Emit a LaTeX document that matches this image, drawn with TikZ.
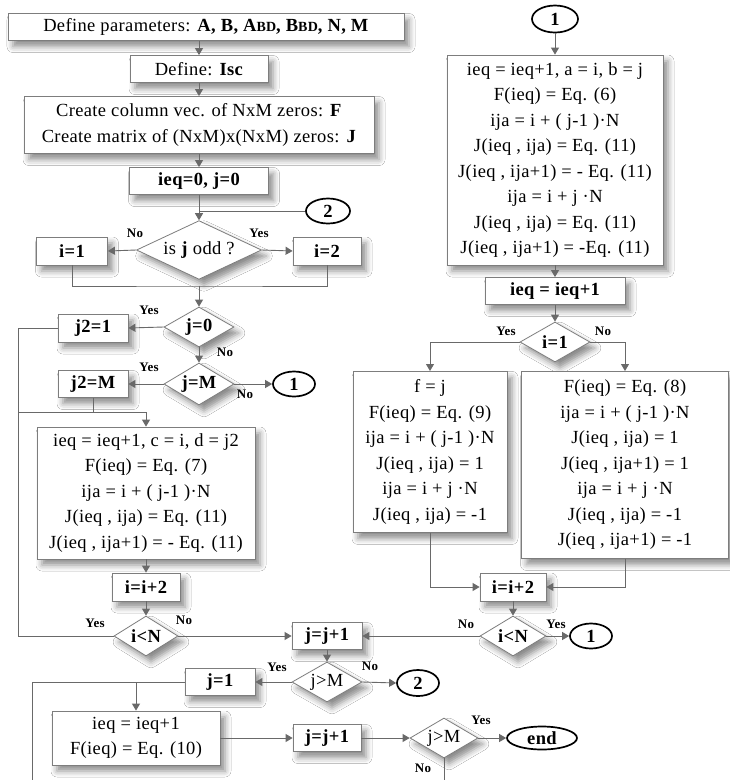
\documentclass[tikz,border=0pt]{standalone}
\usepackage{fontspec}
\setmainfont{Liberation Serif}[LetterSpace=2]
\usetikzlibrary{shapes.geometric,arrows.meta,shadows.blur}
\definecolor{linegray}{RGB}{105,105,105}
\definecolor{boxgray}{RGB}{125,125,125}
\newcommand{\smc}[1]{{\fontsize{14}{14}\selectfont #1}}
\begin{document}
\begin{tikzpicture}[x=1pt,y=-1pt,
  every node/.style={font=\fontsize{18.5}{25.5}\selectfont},
  shad/.style={blur shadow={shadow xshift=5pt,shadow yshift=-6pt,shadow blur radius=6pt,shadow opacity=45}},
  box/.style={draw=boxgray,fill=white,line width=0.8pt,align=center,inner sep=2pt,shad},
  bb/.style={font=\fontsize{18.5}{20}\selectfont\bfseries},
  dia/.style={diamond,aspect=1.7,draw=boxgray,fill=white,line width=0.8pt,inner sep=0pt,shad},
  conn/.style={ellipse,draw=black,line width=1.7pt,fill=white,inner sep=0pt,font=\fontsize{18.5}{18.5}\selectfont\bfseries},
  lbl/.style={font=\fontsize{13}{13}\selectfont\bfseries,inner sep=0pt},
  arr/.style={draw=linegray,line width=0.9pt,-{Triangle[width=8pt,length=7pt]}},
  ln/.style={draw=linegray,line width=0.9pt}
]
\useasboundingbox (0,0) rectangle (730,780);
\fill[white] (0,0) rectangle (730,780);

% ---------- left column ----------
\node[box,minimum width=396pt,minimum height=27pt] (def) at (206,27)
  {Define parameters: \textbf{A, B, A\smc{BD}, B\smc{BD}, N, M}};
\node[box,minimum width=138pt,minimum height=27pt] (isc) at (199,69) {Define: \textbf{Isc}};
\node[box,minimum width=350pt,minimum height=57pt] (create) at (199,125)
  {Create column vec. of NxM zeros: \textbf{F}\\Create matrix of (NxM)x(NxM) zeros: \textbf{J}};
\node[box,bb,minimum width=139pt,minimum height=27pt] (ieq0) at (199,181) {ieq=0, j=0};
\node[conn,minimum width=44pt,minimum height=25pt] (c2a) at (328,211) {2};
\node[dia,minimum width=125pt,minimum height=55pt] (odd) at (199,250) {is \textbf{j} odd ?};
\node[box,bb,minimum width=71pt,minimum height=28pt] (i1) at (72,251) {i=1};
\node[box,bb,minimum width=68pt,minimum height=28pt] (i2) at (327,251) {i=2};
\coordinate (jn1) at (199,286);
\node[dia,bb,minimum width=70pt,minimum height=40pt] (j0) at (199,327) {j=0};
\node[box,bb,minimum width=70pt,minimum height=28pt] (j21) at (93,328) {j2=1};
\node[dia,bb,minimum width=70pt,minimum height=42pt] (jM) at (199,384) {j=M};
\node[box,bb,minimum width=70pt,minimum height=27pt] (j2M) at (93,384) {j2=M};
\node[conn,minimum width=42pt,minimum height=25pt] (c1a) at (294,384) {1};
\node[box,minimum width=218pt,minimum height=132pt] (box7) at (146,493)
  {ieq = ieq+1, c = i, d = j2\\F(ieq) = Eq. (7)\\ija = i + ( j-1 )·N\\J(ieq , ija) = Eq. (11)\\J(ieq , ija+1) = - Eq. (11)};
\node[box,bb,minimum width=68pt,minimum height=28pt] (ii2a) at (146,587) {i=i+2};
\node[dia,bb,minimum width=64pt,minimum height=40pt] (iNa) at (146,636) {i<N};
\node[box,bb,minimum width=70pt,minimum height=27pt] (jj1a) at (327,636) {j=j+1};
\node[dia,minimum width=70pt,minimum height=40pt] (jMa) at (327,682) {j>M};
\node[conn,minimum width=42pt,minimum height=26pt] (c2b) at (418,683) {2};
\node[box,bb,minimum width=70pt,minimum height=27pt] (j1) at (220,682) {j=1};
\node[box,minimum width=168pt,minimum height=54pt] (box10) at (136,738) {ieq = ieq+1\\F(ieq) = Eq. (10)};
\node[box,bb,minimum width=68pt,minimum height=27pt] (jj1b) at (327,738) {j=j+1};
\node[dia,minimum width=68pt,minimum height=40pt] (jMb) at (444,738) {j>M};
\node[conn,minimum width=70pt,minimum height=23pt] (end) at (542,738) {end};
\coordinate (Lx) at (18,0);
\coordinate (jn2) at (18,412);
\coordinate (Bx) at (32,0);
\coordinate (bot) at (0,780);

% ---------- right column ----------
\node[conn,minimum width=46pt,minimum height=27pt] (c1t) at (555,19) {1};
\node[box,minimum width=216pt,minimum height=210pt] (big) at (555,160)
  {ieq = ieq+1, a = i, b = j\\F(ieq) = Eq. (6)\\ija = i + ( j-1 )·N\\J(ieq , ija) = Eq. (11)\\J(ieq , ija+1) = - Eq. (11)\\ija = i + j ·N\\J(ieq , ija) = Eq. (11)\\J(ieq , ija+1) = -Eq. (11)};
\node[box,bb,minimum width=140pt,minimum height=27pt] (ieqb) at (555,291) {ieq = ieq+1};
\node[dia,bb,minimum width=70pt,minimum height=40pt] (d1) at (555,342) {i=1};
\node[box,minimum width=154pt,minimum height=161pt,anchor=north] (fbox) at (430,371)
  {f = j\\F(ieq) = Eq. (9)\\ija = i + ( j-1 )·N\\J(ieq , ija) = 1\\ija = i + j ·N\\J(ieq , ija) = -1};
\node[box,minimum width=207pt,minimum height=187pt,anchor=north] (Fbox) at (625,371)
  {F(ieq) = Eq. (8)\\ija = i + ( j-1 )·N\\J(ieq , ija) = 1\\J(ieq , ija+1) = 1\\ija = i + j ·N\\J(ieq , ija) = -1\\J(ieq , ija+1) = -1};
\node[box,bb,minimum width=66pt,minimum height=28pt] (ii2b) at (513,587) {i=i+2};
\node[dia,bb,minimum width=66pt,minimum height=40pt] (iNb) at (513,636) {i<N};
\node[conn,minimum width=42pt,minimum height=25pt] (c1b) at (591,636) {1};

% ---------- connectors ----------
\draw[arr] (def.south -| isc.north) -- (isc.north);
\draw[arr] (isc) -- (create);
\draw[arr] (create) -- (ieq0);
\draw[arr] (ieq0) -- (odd);
\draw[ln] (c2a.west) -- (c2a.west -| ieq0.south);
\draw[arr] (odd.west) -- (i1.east);
\draw[arr] (odd.east) -- (i2.west);
\draw[ln] (i1.south) |- (jn1) -| (i2.south);
\draw[arr] (jn1) -- (j0.north);
\draw[arr] (j0.west) -- (j21.east);
\draw[arr] (j0) -- (jM);
\draw[arr] (jM.west) -- (j2M.east);
\draw[arr] (jM.east) -- (c1a.west);
\draw[ln] (j21.west) -- (j21.west -| Lx) -- (iNa.west -| Lx) -- (iNa.west);
\draw[ln] (j2M.south) -- (j2M.south |- jn2);
\draw[arr] (jn2) -- (jn2 -| box7.north) -- (box7.north);
\draw[arr] (box7) -- (ii2a);
\draw[arr] (ii2a) -- (iNa);
\draw[arr] (iNa.east) -- (jj1a.west);
\draw[arr] (iNb.west) -- (jj1a.east);
\draw[arr] (iNb.east) -- (c1b.west);
\draw[arr] (jj1a) -- (jMa);
\draw[arr] (jMa.west) -- (j1.east);
\draw[arr] (jMa.east) -- (c2b.west);
\draw[ln] (j1.west) -- (j1.west -| Bx) -- (bot -| Bx);
\draw[arr] (j1.west -| box10.north) -- (box10.north);
\draw[arr] (box10.east) -- (jj1b.west);
\draw[arr] (jj1b.east) -- (jMb.west);
\draw[arr] (jMb.east) -- (end.west);
\draw[ln] (jMb.south) -- (jMb.south |- bot);
\draw[arr] (c1t) -- (big);
\draw[arr] (big) -- (ieqb);
\draw[arr] (ieqb) -- (d1);
\draw[arr] (d1.west) -| (fbox.north);
\draw[arr] (d1.east) -| (Fbox.north);
\draw[arr] (fbox.south) |- (ii2b.west);
\draw[arr] (Fbox.south) |- (ii2b.east);
\draw[arr] (ii2b) -- (iNb);

% ---------- labels ----------
\node[lbl] at (135,233) {No};
\node[lbl] at (259,233) {Yes};
\node[lbl] at (149,310) {Yes};
\node[lbl] at (225,352) {No};
\node[lbl] at (149,367) {Yes};
\node[lbl] at (245,394) {No};
\node[lbl] at (95,623) {Yes};
\node[lbl] at (184,620) {No};
\node[lbl] at (466,624) {No};
\node[lbl] at (556,624) {Yes};
\node[lbl] at (277,667) {Yes};
\node[lbl] at (370,666) {No};
\node[lbl] at (481,720) {Yes};
\node[lbl] at (423,768) {No};
\node[lbl] at (506,331) {Yes};
\node[lbl] at (603,331) {No};
\end{tikzpicture}
\end{document}
